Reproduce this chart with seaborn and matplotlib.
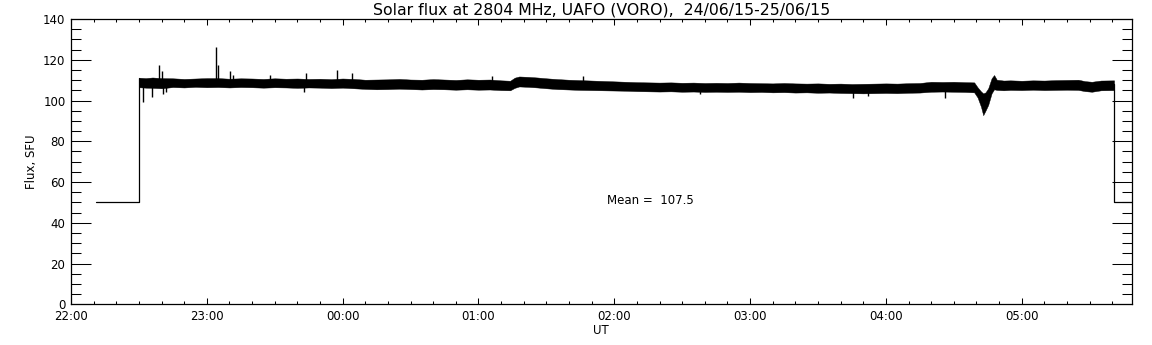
import numpy as np
import pandas as pd

import seaborn as sns
import matplotlib.pyplot as plt
from matplotlib.ticker import MultipleLocator, FuncFormatter

# time axis in minutes after 22:00 UT
x_start, x_end = 0, 468.6

# flat (50 SFU) parts before and after the observation
pre_time = [11.0, 30.2, 30.2]
pre_flux = [50, 50, 111.2]
post_time = [460.8, 460.8, 468.6]
post_flux = [108.0, 50, 50]

# envelope of the noisy flux record
env_time = [30.2, 33, 36, 40, 45, 50, 55, 60, 65, 70, 75, 80, 85, 90, 95,
            100, 105, 110, 115, 120, 125, 130, 135, 140, 145, 150, 155, 160,
            165, 170, 175, 180, 185, 190, 194, 196, 198, 202, 206, 210, 215,
            220, 225, 230, 235, 240, 245, 250, 255, 260, 265, 270, 275, 280,
            285, 290, 295, 300, 305, 310, 315, 320, 325, 330, 335, 340, 345,
            350, 355, 360, 365, 370, 375, 380, 385, 390, 395, 399, 400.5, 402,
            403, 404, 405.2, 406.7, 407.8, 409, 412, 415, 420, 425, 430, 435,
            440, 445, 448, 451, 455, 460.8]
env_low = [106.5, 106.3, 106.2, 106.0, 106.6, 106.4, 106.7, 106.5, 106.6,
           106.4, 106.6, 106.5, 106.3, 106.5, 106.4, 106.2, 106.4, 106.3,
           106.1, 106.3, 106.0, 105.7, 105.5, 105.6, 105.8, 105.6, 105.4,
           105.6, 105.5, 105.3, 105.5, 105.3, 105.4, 105.1, 105.0, 106.2,
           106.9, 106.7, 106.4, 106.0, 105.6, 105.4, 105.2, 105.1, 105.0,
           104.9, 104.8, 104.6, 104.5, 104.4, 104.5, 104.3, 104.4, 104.2,
           104.3, 104.2, 104.3, 104.1, 104.2, 104.0, 104.1, 103.9, 104.0,
           103.8, 103.9, 103.7, 103.6, 103.5, 103.6, 103.7, 103.6, 103.8,
           103.9, 104.3, 104.4, 104.3, 104.2, 104.0, 101.5, 97.0, 92.8, 95.0,
           97.8, 103.5, 105.5, 105.2, 105.0, 105.2, 105.1, 105.3, 105.1,
           105.2, 105.3, 105.2, 104.6, 104.3, 105.0, 105.1]
env_high = [111.2, 111.0, 111.3, 111.0, 110.9, 110.6, 110.8, 111.0, 111.0,
            110.7, 110.9, 110.8, 110.6, 110.9, 110.7, 110.8, 110.6, 110.7,
            110.5, 110.8, 110.6, 110.2, 110.3, 110.4, 110.6, 110.3, 110.2,
            110.5, 110.3, 110.1, 110.4, 110.2, 110.3, 109.9, 109.7, 111.2,
            111.8, 111.6, 111.3, 110.9, 110.5, 110.2, 110.0, 109.8, 109.6,
            109.4, 109.2, 109.0, 108.9, 108.8, 108.9, 108.7, 108.8, 108.6,
            108.7, 108.6, 108.8, 108.6, 108.5, 108.4, 108.6, 108.4, 108.3,
            108.4, 108.2, 108.3, 108.1, 108.2, 108.3, 108.4, 108.3, 108.5,
            108.6, 109.2, 109.1, 109.2, 109.0, 108.9, 106.5, 104.5, 103.5,
            104.0, 106.0, 110.9, 112.5, 110.2, 109.8, 109.9, 109.7, 109.9,
            109.8, 110.0, 110.1, 110.2, 109.5, 109.2, 109.8, 109.9]

# isolated spikes sticking out of the band
spike_time = [39.0, 40.2, 64.2, 64.8, 70.2, 71.4, 88.0, 103.8, 117.4, 124.3,
              186.0, 226.3, 31.9, 35.9, 40.6, 42.0, 103.0, 277.9, 345.6,
              352.0, 386.1]
spike_flux = [117.4, 114.5, 126.5, 117.2, 114.5, 112.3, 112.5, 113.3, 114.8,
              113.3, 111.8, 111.8, 99.5, 101.8, 103.3, 104.0, 104.3, 103.2,
              101.1, 102.2, 101.1]

mean_flux = 107.5
title = "Solar flux at 2804 MHz, UAFO (VORO),  24/06/15-25/06/15"

sns.set_style("white")
plt.rcParams['font.family'] = ['DejaVu Sans']
plt.rcParams['text.color'] = 'black'
plt.rcParams['axes.labelcolor'] = 'black'

fig = plt.figure(figsize=(11.52, 3.45), dpi=100)
ax = fig.add_axes([71 / 1152, 1 - 304.3 / 345, (1131.7 - 71) / 1152, (304.3 - 19) / 345])

# band: min/max of low/high pairs at every time
band = pd.DataFrame({
    'time': np.repeat(env_time, 2),
    'flux': np.column_stack([env_low, env_high]).ravel(),
})
sns.lineplot(data=band, x='time', y='flux', estimator='mean', errorbar=('pi', 100),
             color='black', linewidth=0.6, ax=ax,
             err_kws={'alpha': 1, 'linewidth': 0.3, 'edgecolor': 'black'})

# the flat parts before and after
sns.lineplot(x=pre_time, y=pre_flux, estimator=None, sort=False, color='black', linewidth=0.9, ax=ax)
sns.lineplot(x=post_time, y=post_flux, estimator=None, sort=False, color='black', linewidth=0.9, ax=ax)

# spikes, from the band centre to the spike value
centre = np.interp(spike_time, env_time, (np.array(env_low) + np.array(env_high)) / 2)
ax.vlines(spike_time, centre, spike_flux, color='black', linewidth=1.0)

ax.text(237, 51, f"Mean =  {mean_flux}", fontsize=8.5, va='center', ha='left', color='black')

ax.set_xlim(x_start, x_end)
ax.set_ylim(0, 140)
ax.xaxis.set_major_locator(MultipleLocator(60))
ax.xaxis.set_minor_locator(MultipleLocator(10))
ax.yaxis.set_major_locator(MultipleLocator(20))
ax.yaxis.set_minor_locator(MultipleLocator(5))
ax.xaxis.set_major_formatter(FuncFormatter(lambda m, _: f"{int(22 + m // 60) % 24:02d}:00"))

ax.tick_params(axis='both', which='both', direction='in',
               top=True, bottom=True, left=True, right=True,
               width=0.75, color='black', labelsize=8.5, labelcolor='black')
ax.tick_params(axis='x', which='major', length=4.3, pad=4)
ax.tick_params(axis='x', which='minor', length=2.2)
ax.tick_params(axis='y', which='major', length=14.4, pad=4)
ax.tick_params(axis='y', which='minor', length=7.2)

for s in ax.spines.values():
    s.set_linewidth(0.9)
    s.set_color('black')

ax.set_title(title, fontsize=11.3, pad=3, color='black')
ax.set_xlabel("UT", fontsize=8.5, labelpad=0.5)
ax.set_ylabel("Flux, SFU", fontsize=8.5, labelpad=3.5)

fig.savefig("out.png", dpi=100)
